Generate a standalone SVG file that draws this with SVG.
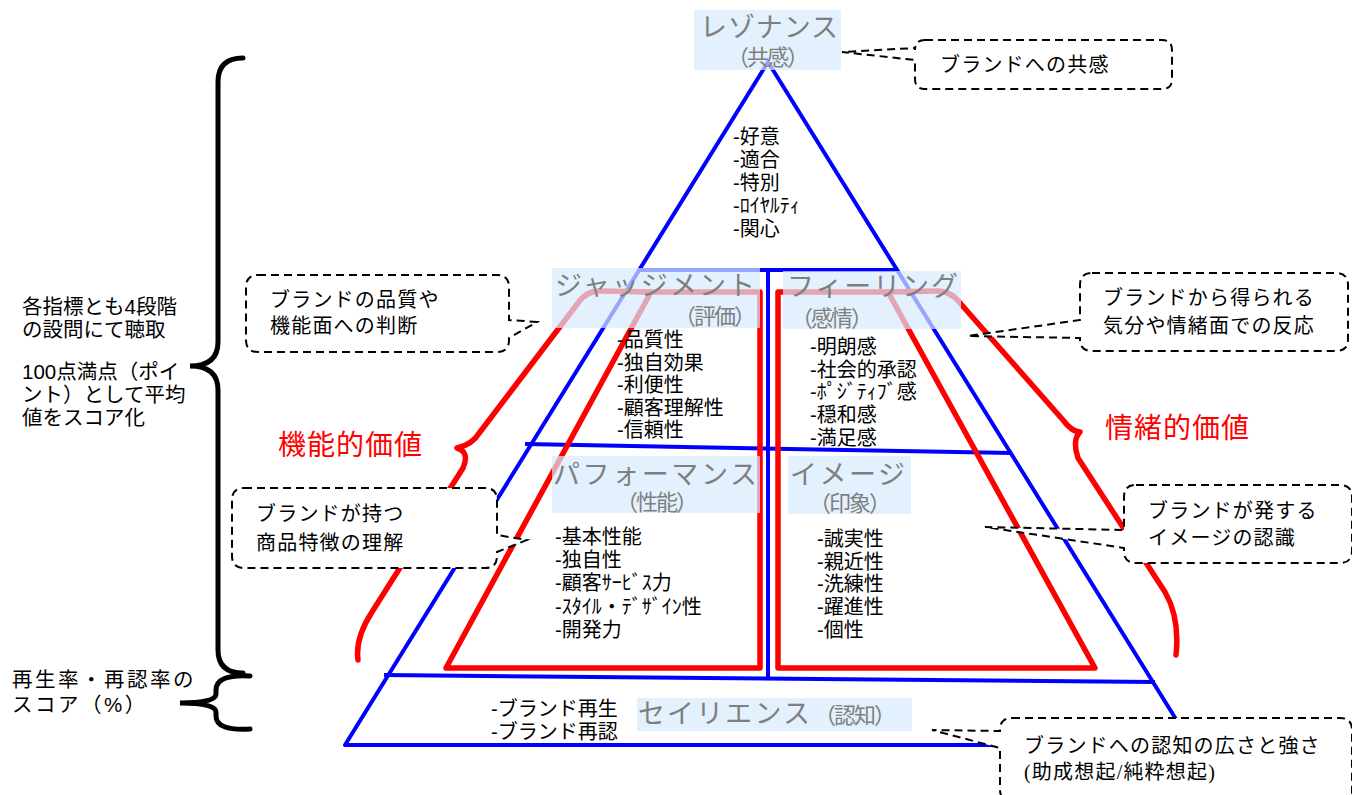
<svg xmlns="http://www.w3.org/2000/svg" width="1352" height="795" viewBox="0 0 1352 795">
<style>
.blue{fill:none;stroke:#0000FF;stroke-width:4;stroke-linejoin:round}
.red{fill:none;stroke:#FF0000;stroke-width:5.5;stroke-linejoin:round;stroke-linecap:round}
.brace{fill:none;stroke:#000;stroke-width:5;stroke-linecap:round}
.call{fill:#fff;stroke:#000;stroke-width:2;stroke-dasharray:8 5}
.lbox{fill:#D5EBFC;opacity:0.7}
.lbl{font-family:"Liberation Sans","Noto Sans CJK JP",sans-serif;fill:#7F7F7F;font-size:27px}
.sub{font-family:"Liberation Sans","Noto Sans CJK JP",sans-serif;fill:#7F7F7F;font-size:22px;letter-spacing:-2px}
.li{font-family:"Liberation Sans","Noto Sans CJK JP",sans-serif;fill:#000;font-size:20px}
.ct{font-family:"Liberation Serif","Noto Sans CJK JP",serif;fill:#000;font-size:20px;letter-spacing:1.2px}
.lt{font-family:"Liberation Sans","Noto Sans CJK JP",sans-serif;fill:#000;font-size:20.5px}
.rv{font-family:"Liberation Sans","Noto Sans CJK JP",sans-serif;fill:#FF0000;font-size:28px;letter-spacing:1px}
</style>
<rect width="1352" height="795" fill="#fff"/>
<g id="connectors">
  <path class="blue" d="M768 62 L345 745 L1192 745 Z"/>
  <path class="blue" d="M639 270 L897 270"/>
  <path class="blue" d="M768 270 L768 679"/>
  <path class="blue" d="M525 444 L1012 453"/>
  <path class="blue" d="M384 675 L1155 682"/>
  <path class="red" d="M760 292 L760 668 L446 668 L651 292 Z"/>
  <path class="red" d="M778 292 L778 668 L1095 668 L888 292 Z"/>
  <path class="red" d="M651 292 L600 291 Q586 291 578 303 L480 432 Q472 445 457 448 Q470 452 463 468 L372 612 Q355 638 358 660"/>
  <path class="red" d="M888 292 L937 291 Q951 291 960 303 L1063 420 Q1072 432 1080 432 Q1072 440 1078 458 L1165 592 Q1180 618 1176 655"/>
  <path class="brace" d="M243 58 Q218 58 218 82 V342 Q218 366 190 366 Q218 366 218 390 V650 Q218 673 243 673"/>
  <path class="brace" d="M250 676 Q216 674 216 690 V694 Q216 703 180 703 Q216 703 216 712 V716 Q216 731 250 729"/>
</g>
<g id="resonance">
  <rect class="lbox" x="694" y="10" width="147" height="60"/>
  <text class="lbl" x="700" y="37" textLength="138" lengthAdjust="spacing">レゾナンス</text>
  <text class="sub" x="767" y="65" text-anchor="middle">（共感）</text>
  <text class="li"><tspan x="733" y="144">-好意</tspan><tspan x="733" y="167">-適合</tspan><tspan x="733" y="190">-特別</tspan><tspan x="733" y="213">-ﾛｲﾔﾙﾃｨ</tspan><tspan x="733" y="236">-関心</tspan></text>
</g>
<g id="judgement">
  <rect class="lbox" x="552" y="268" width="208" height="60"/>
  <text class="lbl" x="555" y="295" textLength="200" lengthAdjust="spacing">ジャッジメント</text>
  <text class="sub" x="714" y="324" text-anchor="middle">（評価）</text>
  <text class="li"><tspan x="617" y="347">-品質性</tspan><tspan x="617" y="370">-独自効果</tspan><tspan x="617" y="392">-利便性</tspan><tspan x="617" y="415">-顧客理解性</tspan><tspan x="617" y="437">-信頼性</tspan></text>
</g>
<g id="feeling">
  <rect class="lbox" x="783" y="271" width="178" height="58"/>
  <text class="lbl" x="787" y="296" textLength="171" lengthAdjust="spacing">フィーリング</text>
  <text class="sub" x="831" y="326" text-anchor="middle">（感情）</text>
  <text class="li"><tspan x="810" y="354">-明朗感</tspan><tspan x="810" y="377">-社会的承認</tspan><tspan x="810" y="399">-ﾎﾟｼﾞﾃｨﾌﾞ感</tspan><tspan x="810" y="422">-穏和感</tspan><tspan x="810" y="445">-満足感</tspan></text>
</g>
<g id="performance">
  <rect class="lbox" x="552" y="456" width="208" height="57"/>
  <text class="lbl" x="553" y="484" textLength="204" lengthAdjust="spacing">パフォーマンス</text>
  <text class="sub" x="656" y="510" text-anchor="middle">（性能）</text>
  <text class="li"><tspan x="555" y="544">-基本性能</tspan><tspan x="555" y="567">-独自性</tspan><tspan x="555" y="590">-顧客ｻｰﾋﾞｽ力</tspan><tspan x="555" y="614">-ｽﾀｲﾙ・ﾃﾞｻﾞｲﾝ性</tspan><tspan x="555" y="637">-開発力</tspan></text>
</g>
<g id="imagery">
  <rect class="lbox" x="788" y="456" width="123" height="58"/>
  <text class="lbl" x="790" y="484" textLength="115" lengthAdjust="spacing">イメージ</text>
  <text class="sub" x="849" y="511" text-anchor="middle">（印象）</text>
  <text class="li"><tspan x="817" y="546">-誠実性</tspan><tspan x="817" y="569">-親近性</tspan><tspan x="817" y="591">-洗練性</tspan><tspan x="817" y="614">-躍進性</tspan><tspan x="817" y="637">-個性</tspan></text>
</g>
<g id="salience">
  <rect class="lbox" x="637" y="698" width="275" height="33"/>
  <text class="lbl" x="638" y="723" textLength="172" lengthAdjust="spacing">セイリエンス</text>
  <text class="sub" x="814" y="723">（認知）</text>
  <text class="li"><tspan x="491" y="716">-ブランド再生</tspan><tspan x="491" y="739">-ブランド再認</tspan></text>
</g>
<g id="value-labels">
  <text class="rv" x="278" y="455">機能的価値</text>
  <text class="rv" x="1105" y="438">情緒的価値</text>
</g>
<g id="left-notes">
  <text class="lt"><tspan x="22" y="314">各指標とも4段階</tspan><tspan x="22" y="337">の設問にて聴取</tspan></text>
  <text class="lt"><tspan x="22" y="379">100点満点（ポイ</tspan><tspan x="22" y="402">ント）として平均</tspan><tspan x="22" y="425">値をスコア化</tspan></text>
  <text class="lt" style="letter-spacing:2.5px"><tspan x="12" y="687">再生率・再認率の</tspan><tspan x="12" y="712">スコア（%）</tspan></text>
</g>
<g id="callout-resonance">
  <path class="call" d="M925 40 H1162 Q1172 40 1172 50 V79 Q1172 89 1162 89 H925 Q915 89 915 79 V60 L842 52 L915 48 V50 Q915 40 925 40 Z"/>
  <text class="ct" x="940" y="72">ブランドへの共感</text>
</g>
<g id="callout-judgement">
  <path class="call" d="M258 275 H497 Q509 275 509 287 V320 L537 322 L509 338 V340 Q509 352 497 352 H258 Q246 352 246 340 V287 Q246 275 258 275 Z"/>
  <text class="ct"><tspan x="270" y="307">ブランドの品質や</tspan><tspan x="270" y="333">機能面への判断</tspan></text>
</g>
<g id="callout-feeling">
  <path class="call" d="M1092 273 H1336 Q1348 273 1348 285 V339 Q1348 351 1336 351 H1092 Q1080 351 1080 339 V338 L968 336 L1080 320 V285 Q1080 273 1092 273 Z"/>
  <text class="ct"><tspan x="1103" y="305">ブランドから得られる</tspan><tspan x="1103" y="333">気分や情緒面での反応</tspan></text>
</g>
<g id="callout-performance">
  <path class="call" d="M244 488 H485 Q497 488 497 500 V535 L527 540 L497 552 V556 Q497 568 485 568 H244 Q232 568 232 556 V500 Q232 488 244 488 Z"/>
  <text class="ct"><tspan x="256" y="521">ブランドが持つ</tspan><tspan x="256" y="550">商品特徴の理解</tspan></text>
</g>
<g id="callout-imagery">
  <path class="call" d="M1136 485 H1340 Q1352 485 1352 497 V551 Q1352 563 1340 563 H1136 Q1124 563 1124 551 V548 L985 527 L1124 530 V497 Q1124 485 1136 485 Z"/>
  <text class="ct"><tspan x="1148" y="518">ブランドが発する</tspan><tspan x="1148" y="545">イメージの認識</tspan></text>
</g>
<g id="callout-salience">
  <path class="call" d="M1012 718 H1340 Q1352 718 1352 730 V800 H1012 Q1000 800 1000 790 V748 L932 730 L1000 731 V730 Q1000 718 1012 718 Z"/>
  <text class="ct"><tspan x="1024" y="753">ブランドへの認知の広さと強さ</tspan><tspan x="1024" y="779">(助成想起/純粋想起)</tspan></text>
</g>
</svg>
